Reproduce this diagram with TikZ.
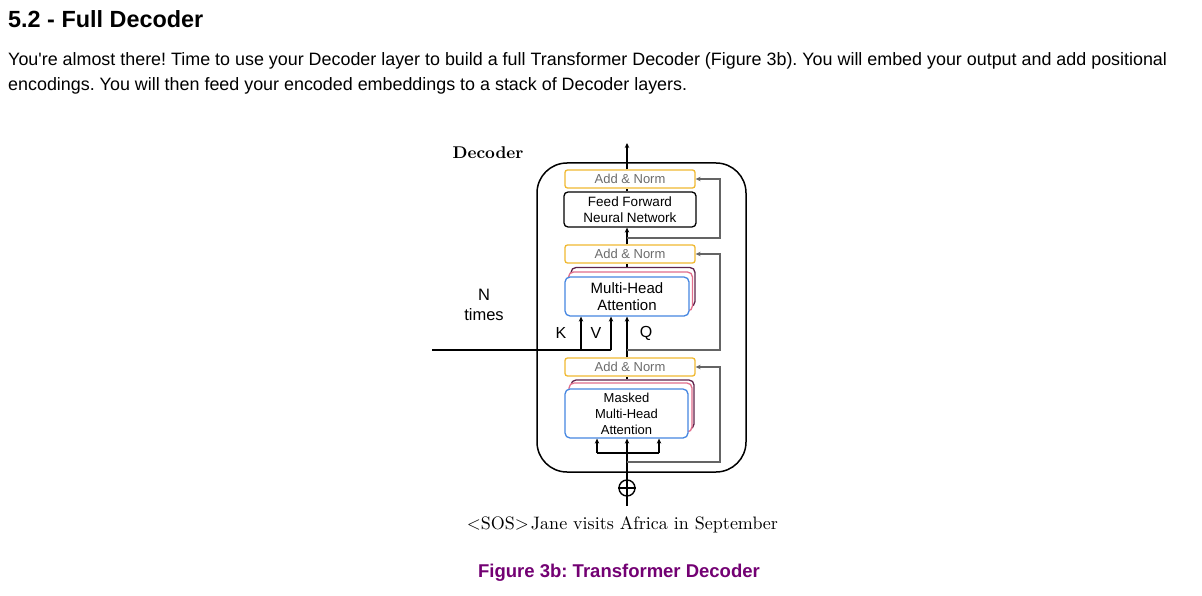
\documentclass[tikz,border=0pt]{standalone}
\usepackage{fontspec}
\newfontfamily\arial{Liberation Sans}
\newfontfamily\lmten{lmroman10-regular.otf}
\newfontfamily\lmtenbf{lmroman10-bold.otf}
\usetikzlibrary{arrows.meta,backgrounds}
\frenchspacing
\definecolor{addc}{RGB}{240,185,50}
\definecolor{attc}{RGB}{70,135,225}
\definecolor{pinkc}{RGB}{225,110,140}
\definecolor{purpc}{RGB}{95,35,75}
\definecolor{resc}{RGB}{100,100,100}
\definecolor{capc}{RGB}{115,0,115}
\tikzset{
  addnorm/.style={draw=addc, line width=1.3pt, rounded corners=2.5pt, minimum width=130pt, minimum height=18pt, inner sep=0pt, text=gray!85!black, fill=white, font=\arial\fontsize{13}{15}\selectfont},
  ffbox/.style={draw=black, line width=1.3pt, rounded corners=4pt, minimum width=132pt, minimum height=35pt, inner sep=0pt, align=center, fill=white, font=\arial\fontsize{13.5}{16}\selectfont},
  attbox/.style={draw=attc, line width=1.3pt, rounded corners=5pt, inner sep=0pt, align=center, fill=white},
  backbox/.style={line width=1.3pt, rounded corners=5pt, inner sep=0pt, fill=white},
  conn/.style={line width=1.4pt, -{Stealth[length=5pt,width=4.5pt]}},
  plain/.style={line width=1.4pt},
  res/.style={line width=1.4pt, draw=resc, -{Stealth[length=5pt,width=4.5pt]}},
  lbl/.style={font=\arial\fontsize{16}{18}\selectfont, inner sep=0pt},
}
\begin{document}
\begin{tikzpicture}[x=1pt,y=-1pt]
\useasboundingbox (0,0) rectangle (1202,596);
\fill[white] (0,0) rectangle (1202,596);
% page text
\node[anchor=base west, inner sep=0pt, font=\arial\bfseries\fontsize{23.4}{27}\selectfont] (head) at (8,27.5) {5.2 - Full Decoder};
\node[anchor=base west, inner sep=0pt, font=\arial\fontsize{17.9}{21}\selectfont] (p1) at (8,66) {You're almost there! Time to use your Decoder layer to build a full Transformer Decoder (Figure 3b). You will embed your output and add positional};
\node[anchor=base west, inner sep=0pt, font=\arial\fontsize{17.9}{21}\selectfont] (p2) at (8,91) {encodings. You will then feed your encoded embeddings to a stack of Decoder layers.};
% decoder frame
\node[draw, line width=1.5pt, rounded corners=30pt, minimum width=209pt, minimum height=309pt, inner sep=0pt] (frame) at (641.5,317.5) {};
\node[font=\lmtenbf\fontsize{17}{20}\selectfont, inner sep=0pt] (title) at (488,153) {Decoder};
% top block
\node[addnorm] (an1) at (630,179) {Add \& Norm};
\node[ffbox] (ff) at (630,209.5) {Feed Forward\\Neural Network};
\node[addnorm] (an2) at (630,254) {Add \& Norm};
% multi-head attention stack
\node[backbox, draw=purpc, minimum width=124pt, minimum height=39pt] (mhaC) at (633,287) {};
\node[backbox, draw=pinkc, minimum width=124pt, minimum height=39pt] (mhaB) at (630.5,291.5) {};
\node[attbox, minimum width=124pt, minimum height=39pt, font=\arial\fontsize{15}{17}\selectfont] (mha) at (627,296.5) {Multi-Head\\Attention};
\node[addnorm] (an3) at (630,367) {Add \& Norm};
% masked stack
\node[backbox, draw=purpc, minimum width=123pt, minimum height=49pt] (mmC) at (632.5,404.5) {};
\node[backbox, draw=pinkc, minimum width=123pt, minimum height=49pt] (mmB) at (630.5,407.5) {};
\node[attbox, minimum width=123pt, minimum height=49pt, font=\arial\fontsize{13}{16}\selectfont] (mm) at (626.5,413.5) {Masked\\Multi-Head\\Attention};
% plus
\node[draw, circle, line width=1.4pt, minimum size=16pt, inner sep=0pt] (plus) at (627,488) {};
\draw[line width=1.4pt] (plus.north) -- (plus.south) (plus.west) -- (plus.east);
% labels
\node[lbl] (K) at (561,333) {K};
\node[lbl] (V) at (596,333) {V};
\node[lbl] (Q) at (646,333) {Q};
\node[lbl, align=center, font=\arial\fontsize{16.5}{20}\selectfont] (N) at (484,305) {N\\times};
\node[font=\lmten\fontsize{18}{22}\selectfont, inner sep=0pt] (sent) at (622.5,524.5) {<SOS>\kern2pt Jane visits Africa in September};
\node[font=\arial\bfseries\fontsize{18.5}{21}\selectfont, text=capc, inner sep=0pt] (cap) at (619,573) {Figure 3b: Transformer Decoder};
% coordinates
\coordinate (out) at (627,143);
\coordinate (enc) at (432,350);
\coordinate (kb) at (581,350);
\coordinate (vb) at (611,350);
\coordinate (bl) at (597,453);
\coordinate (br) at (659,453);
\coordinate (r1) at (627,238);
\coordinate (r2) at (627,350);
\coordinate (r3) at (627,462);
\coordinate (inp) at (627,506);
% connectors
\draw[conn] (an1.north -| out) -- (out);
\draw[plain] (ff.north -| out) -- (an1.south -| out);
\draw[conn] (an2.north -| out) -- (ff.south -| out);
\draw[plain] (mhaC.north -| out) -- (an2.south -| out);
\draw[conn] (an3.north -| out) -- (mha.south -| out);
\draw[plain] (enc) -- (vb);
\draw[conn] (kb) -- (kb |- mha.south);
\draw[conn] (vb) -- (vb |- mha.south);
\draw[plain] (mmC.north -| out) -- (an3.south -| out);
\draw[conn] (plus.north) -- (mm.south -| out);
\draw[plain] (bl) -- (br);
\draw[conn] (bl) -- (bl |- mm.south);
\draw[conn] (br) -- (br |- mm.south);
\draw[plain] (plus.south) -- (inp);
% residuals
\draw[res] (r1) -- (720,238) |- (an1.east);
\draw[res] (r2) -- (720,350) |- (an2.east);
\draw[res] (r3) -- (720,462) |- (an3.east);
\end{tikzpicture}
\end{document}
